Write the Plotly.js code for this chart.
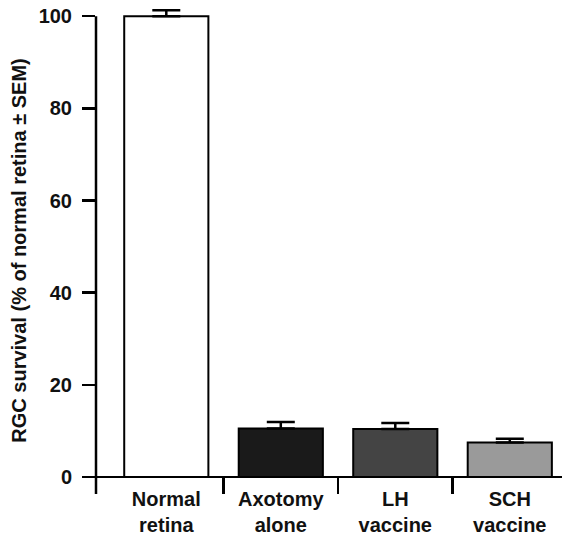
<!DOCTYPE html>
<html><head><meta charset="utf-8">
<script src="https://cdn.plot.ly/plotly-3.0.1.min.js"></script>
<style>html,body{margin:0;padding:0;background:#fff}#c{width:562px;height:539px}</style>
</head><body><div id="c"></div>
<script>
const categories = ["Normal<br>retina", "Axotomy<br>alone", "LH<br>vaccine", "SCH<br>vaccine"];
const survival = [100, 10.5, 10.4, 7.5];
const sem = [1.3, 1.4, 1.3, 0.8];
const barColors = ["#ffffff", "#1a1a1a", "#444444", "#9a9a9a"];
const yTicks = [0, 20, 40, 60, 80, 100];
const xPos = categories.map((_, i) => i);
const F = "Liberation Sans, Arial, sans-serif";

const data = [{
  type: "bar", x: xPos, y: survival, width: 0.735, cliponaxis: false,
  marker: {color: barColors, line: {color: "#000", width: 2}},
  error_y: {type: "data", array: sem, symmetric: false, arrayminus: sem.map(() => 0), color: "#000", thickness: 2.5, width: 14},
  hoverinfo: "none"
}, {
  type: "scatter", x: [0.5, 1.5, 2.5], y: [null, null, null], xaxis: "x2", yaxis: "y", showlegend: false, hoverinfo: "none"
}];

const layout = {
  width: 562, height: 539,
  margin: {l: 96, r: 0, t: 7, b: 45},
  paper_bgcolor: "#fff", plot_bgcolor: "#fff",
  showlegend: false,
  font: {family: F, color: "#000", size: 20},
  xaxis: {range: [-0.614, 3.456], tickmode: "array", tickvals: xPos, ticktext: categories,
          ticks: "", showline: false, showgrid: false, zeroline: false, fixedrange: true,
          ticklabelstandoff: -9,
          tickfont: {family: F, size: 20, color: "#111", weight: "bold"}},
  xaxis2: {overlaying: "x", anchor: "y", side: "bottom", matches: "x", range: [-0.614, 3.456],
           tickmode: "array", tickvals: [0.5, 1.5, 2.5], showticklabels: false,
           ticks: "inside", ticklen: 17, tickwidth: 2.5, tickcolor: "#000",
           showline: false, showgrid: false, zeroline: false},
  yaxis: {range: [-3.7, 102], tickmode: "array", tickvals: yTicks, ticks: "outside", ticklen: 13,
          tickwidth: 2.5, tickcolor: "#000", showline: false,
          showgrid: false, zeroline: true, zerolinecolor: "#000", zerolinewidth: 2.5,
          ticklabelstandoff: 6,
          tickfont: {family: F, size: 20, color: "#111", weight: "bold"},
          title: {text: "RGC survival (% of normal retina ± SEM)", standoff: 6,
                  font: {family: F, size: 20, color: "#111", weight: "bold"}}},
  shapes: [{type: "line", xref: "paper", yref: "y", x0: 0, x1: 0, y0: -3.7, y1: 100,
            line: {color: "#000", width: 2.5}}]
};
Plotly.newPlot("c", data, layout, {staticPlot: true, displayModeBar: false});
</script></body></html>
